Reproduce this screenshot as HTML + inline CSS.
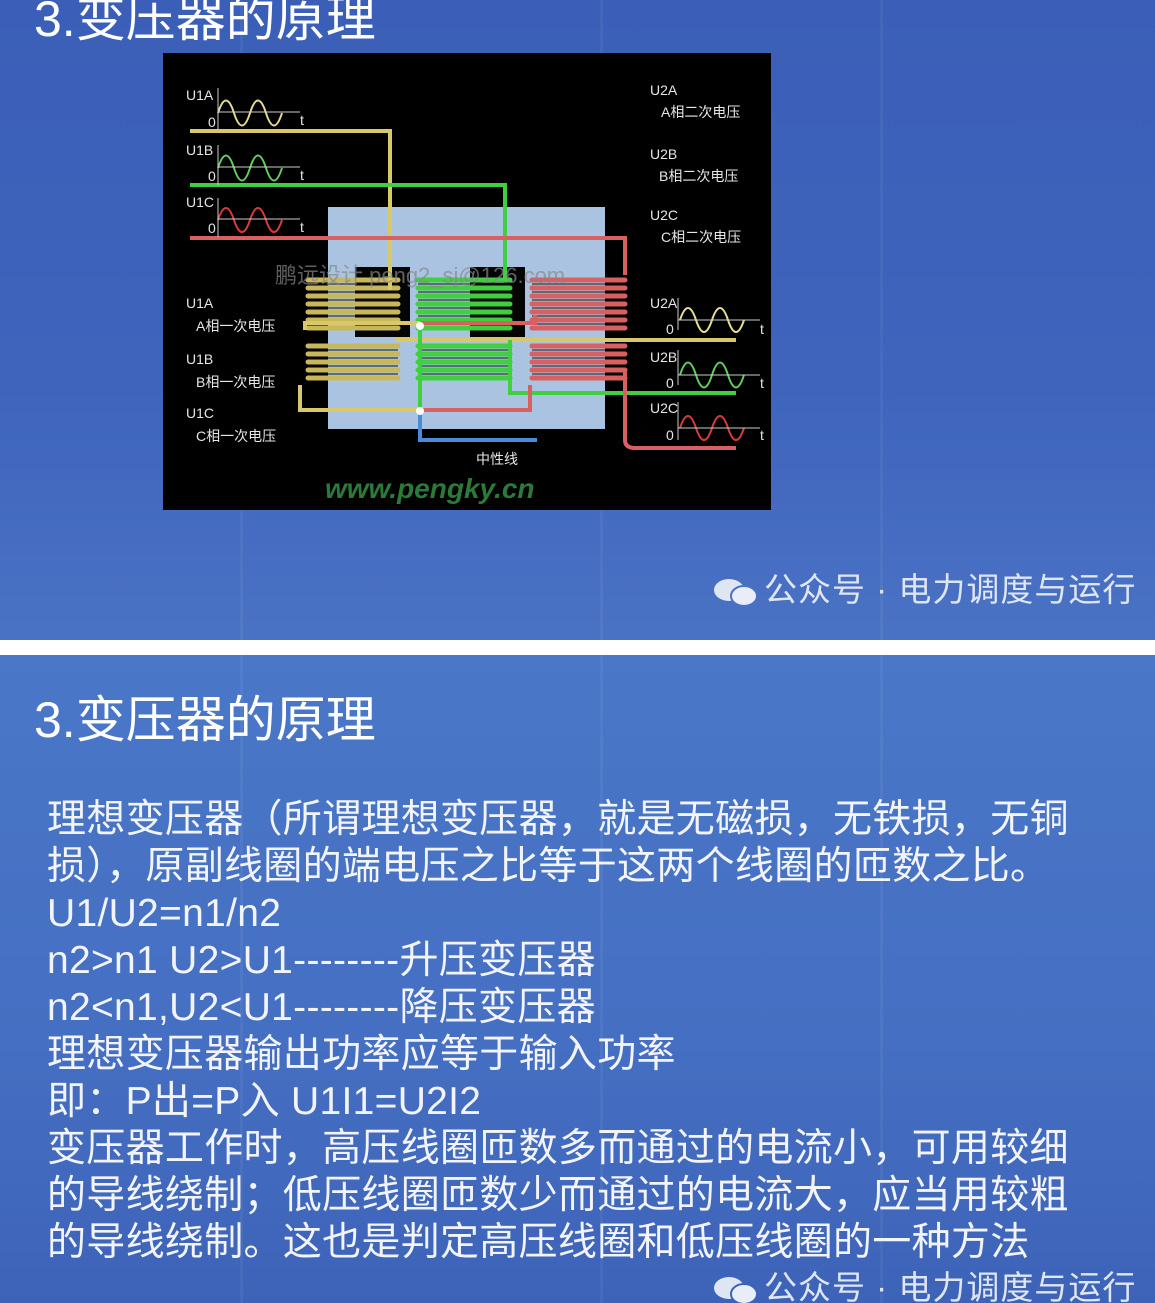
<!DOCTYPE html>
<html><head><meta charset="utf-8"><style>
*{margin:0;padding:0;box-sizing:border-box}
body{width:1155px;height:1303px;overflow:hidden;background:#fff;font-family:"Liberation Sans","Noto Sans CJK SC",sans-serif;position:relative}
.slide{position:absolute;left:0;width:1155px;overflow:hidden}
#s1{top:0;height:640px;background:linear-gradient(180deg,#3b5fb8 0%,#3e64bc 60%,#4a72c4 100%)}
#s2{top:655px;height:648px;background:linear-gradient(180deg,#4a77c8 0%,#456fc2 60%,#3d63b8 100%)}
.title{position:absolute;left:34px;color:#fff;font-size:50px;line-height:50px;font-family:"Liberation Sans","Noto Sans CJK SC",sans-serif}
.wm{position:absolute;left:712px;color:#dfe6f3;font-size:33px;line-height:36px;white-space:nowrap;letter-spacing:1px}
.wm .ic{display:inline-block;width:52px;height:30px;position:relative;vertical-align:middle}
.body{position:absolute;left:47px;top:141px;color:#f2f4fa;font-size:39px;line-height:47px;white-space:nowrap;letter-spacing:0.3px}
.stripe{position:absolute;top:0;width:3px;height:100%;background:rgba(255,255,255,0.05)}
</style></head><body>
<div class="slide" id="s1">
  <div class="stripe" style="left:240px"></div><div class="stripe" style="left:600px"></div><div class="stripe" style="left:880px"></div>
  <div class="title" style="top:-6px">3.变压器的原理</div>
  <svg style="position:absolute;left:163px;top:53px" width="608" height="457" viewBox="163 53 608 457">
    <rect x="163" y="53" width="608" height="457" fill="#000"/>
    <rect x="328" y="207" width="277" height="222" fill="#a9c3e0"/>
    <rect x="355" y="267" width="55" height="70" fill="#050505"/>
    <rect x="470" y="267" width="55" height="70" fill="#050505"/>
    <g fill="none" stroke-width="5" stroke-linecap="round">
      <g stroke="#c9b85a"><path d="M308 280h90M308 288h90M308 296h90M308 304h90M308 312h90M308 320h90M308 328h90"/></g>
      <g stroke="#3fcf3f"><path d="M418 280h92M418 288h92M418 296h92M418 304h92M418 312h92M418 320h92M418 328h92"/></g>
      <g stroke="#d96060"><path d="M532 280h93M532 288h93M532 296h93M532 304h93M532 312h93M532 320h93M532 328h93"/></g>
      <g stroke="#c9b85a"><path d="M308 346h90M308 354h90M308 362h90M308 370h90M308 378h90"/></g>
      <g stroke="#3fcf3f"><path d="M418 346h92M418 354h92M418 362h92M418 370h92M418 378h92"/></g>
      <g stroke="#d96060"><path d="M532 346h93M532 354h93M532 362h93M532 370h93M532 378h93"/></g>
    </g>
    <g fill="none" stroke-width="2" stroke="#111" opacity="0.5">
      <path d="M308 284h90M308 292h90M308 300h90M308 308h90M308 316h90M308 324h90M418 284h92M418 292h92M418 300h92M418 308h92M418 316h92M418 324h92M532 284h93M532 292h93M532 300h93M532 308h93M532 316h93M532 324h93M308 350h90M308 358h90M308 366h90M308 374h90M418 350h92M418 358h92M418 366h92M418 374h92M532 350h93M532 358h93M532 366h93M532 374h93"/>
    </g>
    <g fill="none" stroke-width="4">
      <path d="M190 131H390V290" stroke="#d9c86a"/>
      <path d="M190 185H505V280" stroke="#3fcf3f"/>
      <path d="M190 238H625V275" stroke="#d96060"/>
      <path d="M305 330V323H420" stroke="#d9c86a"/>
      <path d="M420 323H535V315" stroke="#d96060"/>
      <path d="M395 340H736" stroke="#d9c86a"/>
      <path d="M510 340V393H736" stroke="#3fcf3f"/>
      <path d="M625 370V440Q625 448 635 448H736" stroke="#d96060"/>
      <path d="M300 385V410H420" stroke="#d9c86a"/>
      <path d="M420 410H530V385" stroke="#d96060"/>
      <path d="M420 330V410" stroke="#3fcf3f"/>
      <path d="M420 410V440H537" stroke="#4a8ad9"/>
    </g>
    <g fill="none">
      <path d="M218 113 Q226 88 234 113 T250 113 T266 113 T282 113" stroke="#e8dd8c" stroke-width="2"/>
      <path d="M218 168 Q226 143 234 168 T250 168 T266 168 T282 168" stroke="#5ed05e" stroke-width="2"/>
      <path d="M218 220 Q226 196 234 220 T250 220 T266 220 T282 220" stroke="#d93b3b" stroke-width="2"/>
      <path d="M218 112H300M218 167H300M218 219H300M218 88V130M218 145V185M218 198V237" stroke="#ccc" stroke-width="1"/>
      <path d="M680 320 Q688 296 696 320 T712 320 T728 320 T744 320" stroke="#e8dd8c" stroke-width="2"/>
      <path d="M680 375 Q688 350 696 375 T712 375 T728 375 T744 375" stroke="#5ed05e" stroke-width="2"/>
      <path d="M680 428 Q688 404 696 428 T712 428 T728 428 T744 428" stroke="#d93b3b" stroke-width="2"/>
      <path d="M678 320H760M678 375H760M678 428H760M678 298V330M678 350V385M678 402V440" stroke="#ccc" stroke-width="1"/>
    </g>
    <circle cx="420" cy="326" r="4" fill="#fff"/><circle cx="420" cy="411" r="4" fill="#fff"/>
    <g fill="#e6e6e6" font-size="14" font-family="Liberation Sans,Noto Sans CJK SC,sans-serif">
      <text x="186" y="100">U1A</text><text x="208" y="127">0</text><text x="300" y="125">t</text>
      <text x="186" y="155">U1B</text><text x="208" y="181">0</text><text x="300" y="180">t</text>
      <text x="186" y="207">U1C</text><text x="208" y="233">0</text><text x="300" y="232">t</text>
      <text x="650" y="95">U2A</text><text x="661" y="117">A相二次电压</text>
      <text x="650" y="159">U2B</text><text x="659" y="181">B相二次电压</text>
      <text x="650" y="220">U2C</text><text x="661" y="242">C相二次电压</text>
      <text x="186" y="308">U1A</text><text x="196" y="331">A相一次电压</text>
      <text x="186" y="364">U1B</text><text x="196" y="387">B相一次电压</text>
      <text x="186" y="418">U1C</text><text x="196" y="441">C相一次电压</text>
      <text x="650" y="308">U2A</text><text x="666" y="334">0</text><text x="760" y="334">t</text>
      <text x="650" y="362">U2B</text><text x="666" y="388">0</text><text x="760" y="388">t</text>
      <text x="650" y="413">U2C</text><text x="666" y="440">0</text><text x="760" y="440">t</text>
      <text x="476" y="464">中性线</text>
    </g>
    <text x="275" y="283" fill="#888" fill-opacity="0.7" font-size="22" font-family="Liberation Sans,Noto Sans CJK SC,sans-serif">鹏远设计 peng2_sj@126.com</text>
    <text x="325" y="498" fill="#2a7a3a" font-size="28" font-weight="bold" font-style="italic" font-family="Liberation Sans,sans-serif">www.pengky.cn</text>
  </svg>
  <div class="wm" style="top:572px"><span class="ic"><svg width="52" height="30"><ellipse cx="17" cy="13" rx="15" ry="11" fill="#dfe6f3"/><ellipse cx="32" cy="19" rx="13" ry="10" fill="#e8edf7" stroke="#4a72c4" stroke-width="2"/></svg></span>公众号 · 电力调度与运行</div>
</div>
<div class="slide" id="s2">
  <div class="stripe" style="left:240px"></div><div class="stripe" style="left:600px"></div><div class="stripe" style="left:880px"></div>
  <div class="title" style="top:40px">3.变压器的原理</div>
  <div class="body">理想变压器（所谓理想变压器，就是无磁损，无铁损，无铜<br>损），原副线圈的端电压之比等于这两个线圈的匝数之比。<br>U1/U2=n1/n2<br>n2&gt;n1 U2&gt;U1--------升压变压器<br>n2&lt;n1,U2&lt;U1--------降压变压器<br>理想变压器输出功率应等于输入功率<br>即：P出=P入  U1I1=U2I2<br>变压器工作时，高压线圈匝数多而通过的电流小，可用较细<br>的导线绕制；低压线圈匝数少而通过的电流大，应当用较粗<br>的导线绕制。这也是判定高压线圈和低压线圈的一种方法</div>
  <div class="wm" style="top:615px"><span class="ic"><svg width="52" height="30"><ellipse cx="17" cy="13" rx="15" ry="11" fill="#dfe6f3"/><ellipse cx="32" cy="19" rx="13" ry="10" fill="#e8edf7" stroke="#3d63b8" stroke-width="2"/></svg></span>公众号 · 电力调度与运行</div>
</div>
</body></html>
